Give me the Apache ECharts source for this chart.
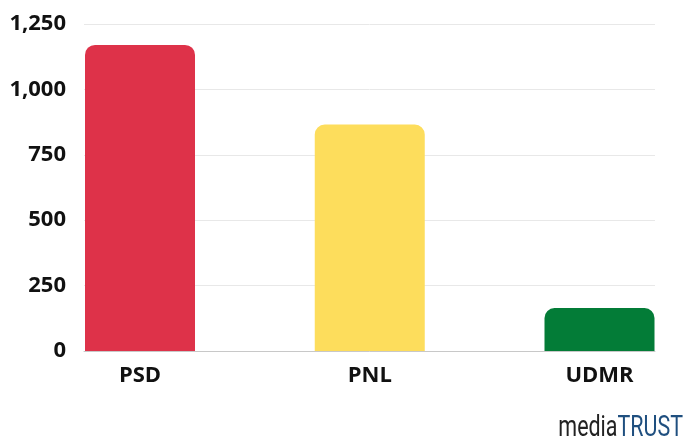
<!DOCTYPE html>
<html>
<head>
<meta charset="utf-8">
<style>
  html, body { margin: 0; padding: 0; background: #fff; }
  #chart-container { width: 683px; height: 444px; }
</style>
<script src="https://cdn.jsdelivr.net/npm/echarts@6/dist/echarts.min.js"></script>
</head>
<body>
<div id="chart-container"></div>
<script>
var parties = ['PSD', 'PNL', 'UDMR'];
var seats = [1170, 866, 164];
var barColors = ['#de3249', '#fddd5c', '#037c37'];
var yTicks = [0, 250, 500, 750, 1000, 1250];

var dom = document.getElementById('chart-container');
var myChart = echarts.init(dom, null, { renderer: 'canvas' });

var labelFont = {
    fontFamily: 'Open Sans',
    fontWeight: 'bold',
    fontSize: 22,
    color: '#111'
};

var option = {
    animation: false,
    grid: [
        // frame: split lines and baseline
        { left: 84, width: 571, top: 24, bottom: 93 },
        // bars: categories sit on the ticks
        { left: 140, width: 459.5, top: 24, bottom: 93 }
    ],
    xAxis: [
        {
            gridIndex: 0,
            type: 'category',
            data: parties,
            axisLine: { lineStyle: { color: '#c8c8c8', width: 1 } },
            axisTick: { show: false },
            axisLabel: { show: false }
        },
        {
            gridIndex: 1,
            type: 'category',
            data: parties,
            boundaryGap: false,
            axisLine: { show: false },
            axisTick: { show: false },
            axisLabel: Object.assign({ margin: 14 }, labelFont)
        }
    ],
    yAxis: [
        {
            gridIndex: 0,
            type: 'value',
            min: yTicks[0],
            max: yTicks[yTicks.length - 1],
            interval: 250,
            axisLine: { show: false },
            axisTick: { show: false },
            splitLine: { lineStyle: { color: '#e8e8e8', width: 1 } },
            axisLabel: Object.assign({
                margin: 18,
                formatter: function (v) { return v.toLocaleString('en-US'); }
            }, labelFont)
        },
        {
            gridIndex: 1,
            type: 'value',
            min: yTicks[0],
            max: yTicks[yTicks.length - 1],
            show: false
        }
    ],
    series: [
        {
            type: 'bar',
            xAxisIndex: 1,
            yAxisIndex: 1,
            barWidth: 110,
            data: seats.map(function (v, i) {
                return {
                    value: v,
                    itemStyle: { color: barColors[i], borderRadius: [10, 10, 0, 0] }
                };
            })
        }
    ],
    graphic: [
        {
            type: 'text',
            x: 683,
            y: 443,
            scaleX: 0.74,
            style: {
                rich: {
                    a: { fontFamily: 'Roboto', fontSize: 29, fill: '#222' },
                    b: { fontFamily: 'Roboto', fontSize: 29, fill: '#1f4f7f' }
                },
                text: '{a|media}{b|TRUST}',
                align: 'right',
                verticalAlign: 'bottom'
            }
        }
    ]
};

myChart.setOption(option);
window.addEventListener('resize', myChart.resize);
</script>
</body>
</html>
